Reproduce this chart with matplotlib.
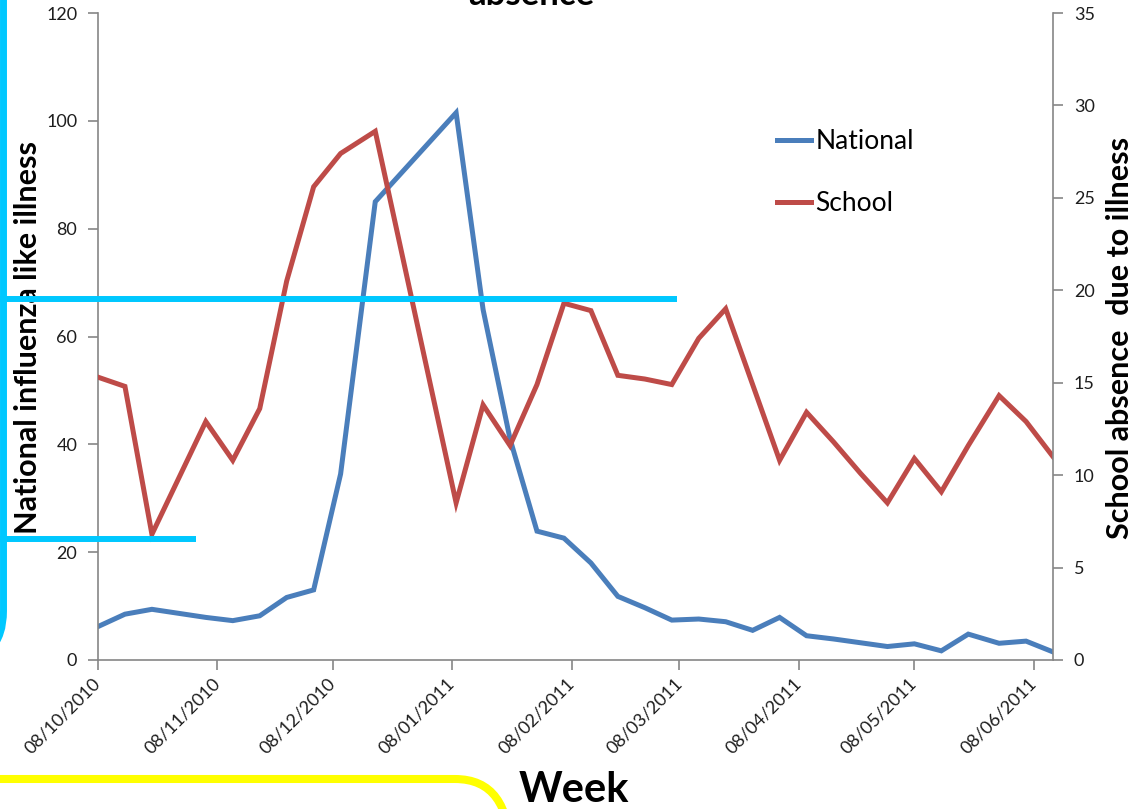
import matplotlib
matplotlib.use('Agg')
import matplotlib.pyplot as plt
import matplotlib.dates as mdates
from matplotlib.lines import Line2D
from matplotlib.patches import FancyBboxPatch
import pandas as pd

plt.rcParams['font.family'] = ['Lato', 'DejaVu Sans']

# weekly reporting dates
weeks = ['2010-10-08', '2010-10-15', '2010-10-22', '2010-11-05', '2010-11-12',
         '2010-11-19', '2010-11-26', '2010-12-03', '2010-12-10', '2010-12-19',
         '2011-01-09', '2011-01-16', '2011-01-23', '2011-01-30', '2011-02-06',
         '2011-02-13', '2011-02-20', '2011-02-27', '2011-03-06', '2011-03-13',
         '2011-03-20', '2011-03-27', '2011-04-03', '2011-04-10', '2011-04-17',
         '2011-04-24', '2011-05-01', '2011-05-08', '2011-05-15', '2011-05-22',
         '2011-05-30', '2011-06-06', '2011-06-13']

# national influenza like illness rate (left axis)
national = [6.2, 8.5, 9.4, 7.9, 7.3, 8.2, 11.6, 13.0, 34.5, 85.0,
            101.5, 65.0, 41.0, 23.9, 22.6, 18.0, 11.8, 9.7, 7.4, 7.6,
            7.1, 5.5, 7.9, 4.5, 3.9, 3.2, 2.5, 3.0, 1.7, 4.8,
            3.1, 3.5, 1.5]

# school absence due to illness (right axis)
school = [15.3, 14.8, 6.8, 12.9, 10.8, 13.6, 20.5, 25.6, 27.4, 28.6,
          8.5, 13.8, 11.6, 14.9, 19.3, 18.9, 15.4, 15.2, 14.9, 17.4,
          19.0, 14.9, 10.8, 13.4, 11.8, 10.1, 8.5, 10.9, 9.1, 11.6,
          14.3, 12.9, 11.0]

left_ticks = [0, 20, 40, 60, 80, 100, 120]
right_ticks = [0, 5, 10, 15, 20, 25, 30, 35]

dates = pd.to_datetime(weeks)

W, H = 1133, 809
fig = plt.figure(figsize=(W / 100, H / 100), dpi=100)
ax = fig.add_axes([98 / W, 1 - 660 / H, 955 / W, 647 / H])
ax2 = ax.twinx()

blue = '#4A7EBB'
red = '#BE4B48'
spine_col = '#868686'
tick_txt = '#1E1E1E'

l1, = ax.plot(dates, national, color=blue, lw=3.6, label='National',
              solid_joinstyle='miter')
l2, = ax2.plot(dates, school, color=red, lw=3.6, label='School',
               solid_joinstyle='miter')

ax.set_xlim(dates[0], dates[-1])
ax.set_ylim(0, 120)
ax2.set_ylim(0, 35)
ax.set_yticks(left_ticks)
ax2.set_yticks(right_ticks)

ax.xaxis.set_major_locator(mdates.MonthLocator(bymonthday=8))
ax.xaxis.set_major_formatter(mdates.DateFormatter('%d/%m/%Y'))

for a in (ax, ax2):
    a.spines['top'].set_visible(False)
    for s in a.spines.values():
        s.set_color(spine_col)
        s.set_linewidth(1.2)
    a.tick_params(axis='both', direction='out', length=7, width=1.2,
                  color=spine_col, labelcolor=tick_txt, labelsize=13, pad=8)
ax.spines['right'].set_visible(False)
ax2.spines['left'].set_visible(False)
ax2.spines['bottom'].set_visible(False)

for lab in ax.get_xticklabels():
    lab.set_rotation(45)
    lab.set_ha('right')
    lab.set_va('center')
    lab.set_rotation_mode('anchor')

# axis titles
fig.text(28 / W, 1 - 338 / H, 'National influenza like illness', rotation=90,
         ha='center', va='center', fontsize=22, fontweight='bold')
fig.text(1120 / W, 1 - 338 / H, 'School absence  due to illness', rotation=90,
         ha='center', va='center', fontsize=22, fontweight='bold')
fig.text(574 / W, 1 - 790 / H, 'Week', ha='center', va='center',
         fontsize=30, fontweight='bold')
fig.text(531 / W, 1 - 5 / H, 'absence', ha='center', va='baseline',
         fontsize=25, fontweight='bold')

ax2.legend(handles=[l1, l2], loc='upper left', frameon=False, fontsize=19,
           bbox_to_anchor=(777 / W, 1 - 129 / H), bbox_transform=fig.transFigure,
           handlelength=1.3, handletextpad=0.15, labelspacing=1.4, borderpad=0,
           borderaxespad=0)

# highlight strokes over the chart (coordinates in inches)
cyan = '#00C8FF'
yellow = '#FFFF00'


def px(x, y):
    return x / 100, (H - y) / 100


for x0, x1, y in [(0, 677, 299), (0, 196, 539)]:
    (xa, ya), (xb, yb) = px(x0, y), px(x1, y)
    fig.add_artist(Line2D([xa, xb], [ya, yb], transform=fig.dpi_scale_trans,
                          color=cyan, lw=4.3, solid_capstyle='butt', zorder=10))

fig.add_artist(FancyBboxPatch((-1.0, (H - 661) / 100), 1.035, 10,
                              boxstyle='round,pad=0,rounding_size=0.5',
                              transform=fig.dpi_scale_trans, fill=False,
                              edgecolor=cyan, lw=5, zorder=10))
fig.add_artist(FancyBboxPatch((-1.0, -1.0), 6.10, 1.0 + (H - 779) / 100,
                              boxstyle='round,pad=0,rounding_size=0.55',
                              transform=fig.dpi_scale_trans, fill=False,
                              edgecolor=yellow, lw=5.8, zorder=10))

fig.savefig('out.png', dpi=100)
